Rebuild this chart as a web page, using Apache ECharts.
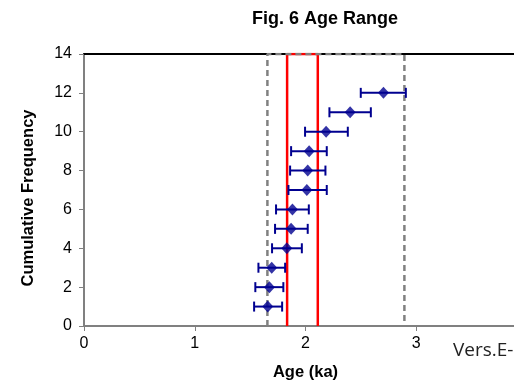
<!DOCTYPE html>
<html>
<head>
<meta charset="utf-8">
<script src="https://cdn.jsdelivr.net/npm/echarts@6/dist/echarts.min.js"></script>
<style>
html,body{margin:0;padding:0;background:#fff;}
#chart{width:514px;height:380px;}
</style>
</head>
<body>
<div id="chart"></div>
<script>
// ---- data ----
var cumFreq = [1, 2, 3, 4, 5, 6, 7, 8, 9, 10, 11, 12];
var ages    = [1.659, 1.674, 1.695, 1.831, 1.870, 1.882, 2.012, 2.020, 2.033, 2.186, 2.403, 2.704];
var errLow  = [1.536, 1.547, 1.575, 1.698, 1.725, 1.734, 1.846, 1.861, 1.870, 1.996, 2.216, 2.499];
var errHigh = [1.789, 1.800, 1.816, 1.967, 2.020, 2.030, 2.192, 2.180, 2.192, 2.382, 2.590, 2.906];
var fullRange = [1.656, 2.893];   // grey dashed box
var meanRange = [1.834, 2.111];   // red box
var yTicks = [0, 14, 2];          // min, max, interval
var xTicks = [0, 4, 1];

var points = ages.map(function (a, i) { return [a, cumFreq[i]]; });
var bars = ages.map(function (a, i) { return [errLow[i], errHigh[i], cumFreq[i]]; });
function box(r) {
  return [[r[0], yTicks[0]], [r[0], yTicks[1]], [r[1], yTicks[1]], [r[1], yTicks[0]]];
}

var NAVY = '#000090';
var FONT = '"Liberation Sans", Arial, sans-serif';

var chart = echarts.init(document.getElementById('chart'));
chart.setOption({
  animation: false,
  backgroundColor: '#ffffff',
  title: {
    text: 'Fig. 6 Age Range',
    left: 320, top: 5, textAlign: 'center',
    textStyle: { fontFamily: FONT, fontSize: 18, fontWeight: 'bold', color: '#000' }
  },
  grid: { left: 84, top: 54, right: -13, bottom: 54, outerBoundsMode: 'none', containLabel: false },
  xAxis: [{
    type: 'value', min: xTicks[0], max: xTicks[1], interval: xTicks[2],
    name: 'Age (ka)', nameLocation: 'middle', nameGap: 38,
    nameTextStyle: { fontFamily: FONT, fontSize: 16.5, fontWeight: 'bold', color: '#000' },
    axisLine: { show: true, onZero: false, lineStyle: { color: '#808080', width: 2 } },
    axisTick: { show: true, length: 5, lineStyle: { color: '#808080', width: 1 } },
    axisLabel: { fontFamily: FONT, fontSize: 16, color: '#000', margin: 10 },
    splitLine: { show: false }
  }, {
    type: 'value', position: 'top', min: xTicks[0], max: xTicks[1], interval: xTicks[2],
    axisLine: { show: true, onZero: false, lineStyle: { color: '#000', width: 2 } },
    axisTick: { show: false }, axisLabel: { show: false }, splitLine: { show: false }
  }],
  yAxis: {
    type: 'value', min: yTicks[0], max: yTicks[1], interval: yTicks[2],
    name: 'Cumulative Frequency', nameLocation: 'middle', nameGap: 47,
    nameTextStyle: { fontFamily: FONT, fontSize: 16.5, fontWeight: 'bold', color: '#000', padding: [0, 16, 0, 0] },
    axisLine: { show: true, onZero: false, lineStyle: { color: '#808080', width: 2 } },
    axisTick: { show: true, length: 5, lineStyle: { color: '#808080', width: 1 } },
    axisLabel: { fontFamily: FONT, fontSize: 16, color: '#000', margin: 12 },
    splitLine: { show: false }
  },
  series: [
    {
      type: 'line', data: box(meanRange), symbol: 'none', z: 3, silent: true,
      lineStyle: { color: '#ff0000', width: 2.5 }
    },
    {
      type: 'line', data: box(fullRange), symbol: 'none', z: 4, silent: true,
      lineStyle: { color: '#808080', width: 2.5, type: [6, 4] }
    },
    {
      type: 'custom', data: bars, z: 5, encode: { x: [0, 1], y: 2 },
      renderItem: function (params, api) {
        var y = api.value(2);
        var p1 = api.coord([api.value(0), y]);
        var p2 = api.coord([api.value(1), y]);
        var st = { stroke: NAVY, lineWidth: 2 };
        var h = 5;
        return {
          type: 'group',
          children: [
            { type: 'line', shape: { x1: p1[0], y1: p1[1], x2: p2[0], y2: p2[1] }, style: st },
            { type: 'line', shape: { x1: p1[0], y1: p1[1] - h, x2: p1[0], y2: p1[1] + h }, style: st },
            { type: 'line', shape: { x1: p2[0], y1: p2[1] - h, x2: p2[0], y2: p2[1] + h }, style: st }
          ]
        };
      }
    },
    {
      type: 'scatter', data: points, symbol: 'diamond', symbolSize: [11, 12], z: 6,
      itemStyle: { color: NAVY }
    }
  ],
  graphic: [{
    type: 'text', left: 453, top: 341,
    style: { text: 'Vers.E-', font: '19px "Open Sans", sans-serif', fill: '#222' }
  }]
});
</script>
</body>
</html>
